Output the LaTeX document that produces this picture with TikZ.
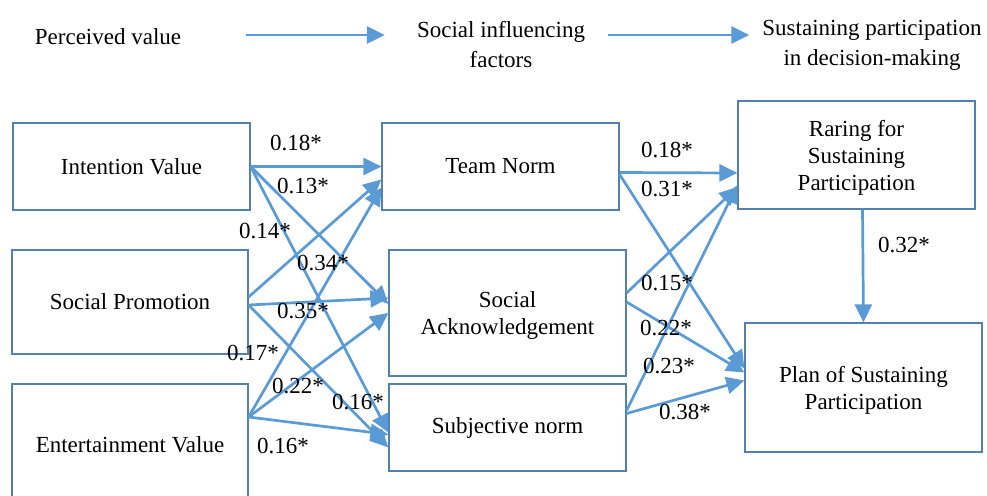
\documentclass[tikz,border=0pt]{standalone}
\usepackage{fontspec}
\setmainfont{Liberation Serif}
\usetikzlibrary{arrows.meta}

\definecolor{linkblue}{RGB}{91,155,213}
\definecolor{frameblue}{RGB}{84,128,176}

\begin{document}
\begin{tikzpicture}[
  x=1pt, y=-1pt,
  txt/.style={font=\fontsize{23}{27}\selectfont, align=center, inner sep=0pt},
  head/.style={txt, font=\fontsize{23}{30}\selectfont},
  box/.style={txt, draw=frameblue, line width=1.2pt, minimum width=237pt},
  arr/.style={-{Triangle[length=18pt,width=17pt]}, line width=2.7pt, draw=linkblue},
  coef/.style={txt}
]
\useasboundingbox (0,0) rectangle (987,495);
\fill[white] (0,0) rectangle (987,495);

% stage headings
\node[head] (hval) at (108,37) {Perceived value};
\node[head] (hsoc) at (501,45) {Social influencing\\factors};
\node[head] (hsus) at (872,45.5) {Sustaining participation\\in decision-making};
\draw[arr] ([xshift=65pt,yshift=2pt]hval.east) -- ([xshift=-32pt,yshift=10pt]hsoc.west);
\draw[arr] ([xshift=23pt,yshift=10pt]hsoc.east) -- ([xshift=-13pt,yshift=10.5pt]hsus.west);

% perceived value
\node[box, minimum height=87pt] (iv) at (131.5,166.5) {Intention Value};
\node[box, minimum height=104pt, minimum width=236pt] (sp) at (130,302) {Social Promotion};
\node[box, minimum height=122pt, minimum width=236pt] (ev) at (130,445) {Entertainment Value};

% social influencing factors
\node[box, minimum height=87pt] (tn) at (500.5,166.5) {Team Norm};
\node[box, minimum height=126pt, text depth=-1pt] (sa) at (507.5,313) {Social\\Acknowledgement};
\node[box, minimum height=87pt] (sn) at (507.5,427.5) {Subjective norm};

% sustaining participation
\node[box, minimum height=108pt, text depth=-5pt] (rsp) at (856.5,155) {Raring for\\Sustaining\\Participation};
\node[box, minimum height=129pt, text depth=-5pt] (psp) at (863.5,387.5) {Plan of Sustaining\\Participation};

% paths from perceived value
\draw[arr] (iv.east) -- (tn.west);
\draw[arr] (iv.east) -- ([yshift=9pt]sa.west);
\draw[arr] (iv.east) -- ([yshift=-5pt]sn.west);
\draw[arr] ([yshift=5pt]sp.east) -- ([yshift=-13pt]tn.west);
\draw[arr] ([yshift=-3pt]sp.east) -- ([yshift=15pt]sa.west);
\draw[arr] ([yshift=-3pt]sp.east) -- ([yshift=-20pt]sn.west);
\draw[arr] ([yshift=28pt]ev.east) -- ([yshift=-21pt]tn.west);
\draw[arr] ([yshift=28pt]ev.east) -- (sa.west);
\draw[arr] ([yshift=28pt]ev.east) -- ([yshift=-7pt]sn.west);

% paths from social influencing factors
\draw[arr] ([yshift=-6pt]tn.east) -- ([yshift=-18pt]rsp.west);
\draw[arr] ([yshift=-8pt]tn.east) -- ([yshift=19pt]psp.west);
\draw[arr] ([yshift=20pt]sa.east) -- ([yshift=-32pt]rsp.west);
\draw[arr] ([yshift=11pt]sa.east) -- ([yshift=15pt]psp.west);
\draw[arr] ([yshift=17pt]sn.east) -- ([yshift=-30pt]rsp.west);
\draw[arr] ([yshift=14pt]sn.east) -- ([yshift=7pt]psp.west);
\draw[arr] ([xshift=6pt]rsp.south) -- (psp.north);

% coefficients
\node[coef] at (296,143) {0.18*};
\node[coef] at (303,186) {0.13*};
\node[coef] at (265,231) {0.14*};
\node[coef] at (323,263) {0.34*};
\node[coef] at (303,311) {0.35*};
\node[coef] at (253,353) {0.17*};
\node[coef] at (298,386) {0.22*};
\node[coef] at (358,402) {0.16*};
\node[coef] at (283,446) {0.16*};
\node[coef] at (667,150) {0.18*};
\node[coef] at (667,189) {0.31*};
\node[coef] at (667,283) {0.15*};
\node[coef] at (666,328) {0.22*};
\node[coef] at (669,366) {0.23*};
\node[coef] at (685,412) {0.38*};
\node[coef] at (904,245) {0.32*};

\end{tikzpicture}
\end{document}
